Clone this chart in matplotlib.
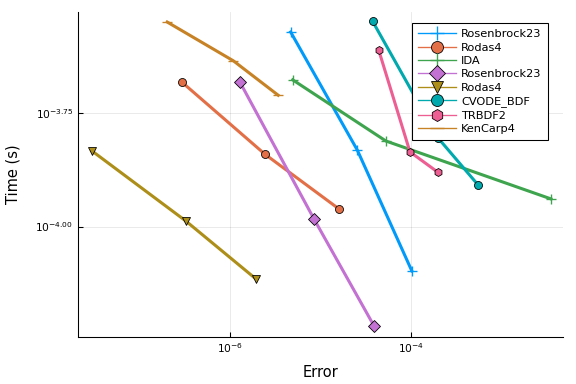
import matplotlib
matplotlib.use("Agg")
import matplotlib.pyplot as plt
from matplotlib.ticker import FixedLocator, FixedFormatter, NullLocator

names = ["Rosenbrock23", "Rodas4", "IDA", "Rosenbrock23", "Rodas4",
         "CVODE_BDF", "TRBDF2", "KenCarp4"]
colors = ["#009AFA", "#E36F47", "#3EA44E", "#C371D2", "#AC8E18",
          "#00A9AD", "#ED5F92", "#C68225"]
markers = ["+", "o", "+", "D", "v", "o", "h", "_"]

err_rosenbrock23_a = [4.72e-6, 2.57e-5, 1.03e-4]
time_rosenbrock23_a = [2.69e-4, 1.476e-4, 7.98e-5]
err_rodas4_a = [2.97e-7, 2.45e-6, 1.61e-5]
time_rodas4_a = [2.084e-4, 1.445e-4, 1.094e-4]
err_ida = [4.97e-6, 5.33e-5, 3.55e-3]
time_ida = [2.109e-4, 1.545e-4, 1.151e-4]
err_rosenbrock23_b = [1.30e-6, 8.53e-6, 3.94e-5]
time_rosenbrock23_b = [2.084e-4, 1.040e-4, 6.03e-5]
err_rodas4_b = [3.01e-8, 3.29e-7, 1.95e-6]
time_rodas4_b = [1.469e-4, 1.028e-4, 7.66e-5]
err_cvode = [3.80e-5, 2.02e-4, 5.55e-4]
time_cvode = [2.84e-4, 1.567e-4, 1.236e-4]
err_trbdf2 = [4.43e-5, 9.82e-5, 2.00e-4]
time_trbdf2 = [2.455e-4, 1.462e-4, 1.318e-4]
err_kencarp4 = [2.04e-7, 1.10e-6, 3.44e-6]
time_kencarp4 = [2.83e-4, 2.323e-4, 1.950e-4]

errs = [err_rosenbrock23_a, err_rodas4_a, err_ida, err_rosenbrock23_b,
        err_rodas4_b, err_cvode, err_trbdf2, err_kencarp4]
times = [time_rosenbrock23_a, time_rodas4_a, time_ida, time_rosenbrock23_b,
         time_rodas4_b, time_cvode, time_trbdf2, time_kencarp4]

xticks = [1e-6, 1e-4]
xticklabels = [r"$10^{-6}$", r"$10^{-4}$"]
yticks = [10**-4.0, 10**-3.75]
yticklabels = [r"$10^{-4.00}$", r"$10^{-3.75}$"]

fig = plt.figure(figsize=(6, 4), dpi=96)
ax = fig.add_axes([0.1354, 0.1224, 0.842, 0.8464])

for e, t, n, c, m in zip(errs, times, names, colors, markers):
    if m in ("+", "_"):
        ax.plot(e, t, color=c, lw=2.3, marker=m, ms=7, mew=1.0, label=n)
    else:
        ax.plot(e, t, color=c, lw=2.3, marker=m, ms=6, mec="black",
                mew=0.6, mfc=c, label=n)

ax.set_xscale("log")
ax.set_yscale("log")
ax.set_xlim(10**-7.676, 10**-2.317)
ax.set_ylim(10**-4.244, 10**-3.526)

ax.xaxis.set_major_locator(FixedLocator(xticks))
ax.xaxis.set_major_formatter(FixedFormatter(xticklabels))
ax.yaxis.set_major_locator(FixedLocator(yticks))
ax.yaxis.set_major_formatter(FixedFormatter(yticklabels))
ax.xaxis.set_minor_locator(NullLocator())
ax.yaxis.set_minor_locator(NullLocator())

ax.tick_params(direction="in", length=4, width=0.8, labelsize=8, colors="black")
ax.grid(True, color="black", alpha=0.1, lw=0.6)
ax.spines["top"].set_visible(False)
ax.spines["right"].set_visible(False)
for s in ("left", "bottom"):
    ax.spines[s].set_linewidth(0.8)

ax.set_xlabel("Error", fontsize=11, labelpad=7)
ax.set_ylabel("Time (s)", fontsize=11, labelpad=11)

leg = ax.legend(loc="upper right", bbox_to_anchor=(0.969, 0.966), fontsize=8.5,
                frameon=True, fancybox=False, edgecolor="black",
                framealpha=1.0, handlelength=3.3, markerscale=1.5,
                borderpad=0.55, labelspacing=0.3, handletextpad=0.5,
                borderaxespad=0)
leg.get_frame().set_linewidth(0.8)
for line in leg.get_lines():
    line.set_linewidth(1.0)

fig.savefig("out.png", dpi=96)
